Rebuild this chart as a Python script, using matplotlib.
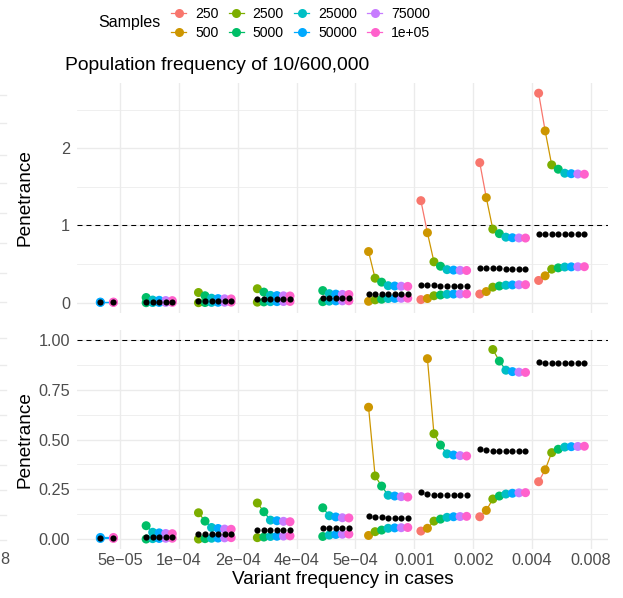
import numpy as np
import matplotlib.pyplot as plt
from matplotlib.lines import Line2D

plt.rcParams['font.family'] = ['Liberation Sans', 'DejaVu Sans']

# sample sizes (dodged inside every frequency group)
samples = [250, 500, 2500, 5000, 25000, 50000, 75000, 100000]
sample_labels = ['250', '500', '2500', '5000', '25000', '50000', '75000', '1e+05']
sample_colors = ['#F8766D', '#CD9600', '#7CAE00', '#00BE67',
                 '#00BFC4', '#00A9FF', '#C77CFF', '#FF61CC']

# variant frequency in cases (x categories)
freq_labels = ['5e\u221205', '1e\u221204', '2e\u221204', '4e\u221204', '5e\u221204',
               '0.001', '0.002', '0.004', '0.008']

nan = np.nan
# rows = frequency groups, columns = sample sizes; nan where no estimate
upper_ci = np.array([
    [nan, nan, nan, nan, nan, 0.008, nan, 0.008],
    [nan, nan, nan, 0.067, 0.034, 0.031, 0.028, 0.027],
    [nan, nan, 0.132, 0.090, 0.058, 0.053, 0.050, 0.049],
    [nan, nan, 0.181, 0.137, 0.095, 0.092, 0.089, 0.087],
    [nan, nan, nan, 0.157, 0.117, 0.111, 0.107, 0.106],
    [nan, 0.662, 0.317, 0.266, 0.220, 0.216, 0.213, 0.211],
    [1.321, 0.906, 0.529, 0.472, 0.428, 0.422, 0.419, 0.417],
    [1.813, 1.360, 0.952, 0.894, 0.848, 0.841, 0.838, 0.837],
    [2.712, 2.224, 1.784, 1.728, 1.676, 1.670, 1.666, 1.663],
])
lower_ci = np.array([
    [nan, nan, nan, nan, nan, 0.003, nan, 0.003],
    [nan, nan, nan, 0.000, 0.002, 0.003, 0.004, 0.004],
    [nan, nan, 0.000, 0.002, 0.004, 0.005, 0.006, 0.007],
    [nan, nan, 0.007, 0.010, 0.013, 0.014, 0.015, 0.016],
    [nan, nan, nan, 0.013, 0.020, 0.023, 0.024, 0.025],
    [nan, 0.018, 0.037, 0.045, 0.054, 0.056, 0.057, 0.058],
    [0.040, 0.054, 0.090, 0.100, 0.109, 0.112, 0.113, 0.114],
    [0.112, 0.144, 0.201, 0.216, 0.226, 0.230, 0.232, 0.233],
    [0.288, 0.348, 0.434, 0.451, 0.462, 0.464, 0.465, 0.466],
])
estimate = np.array([
    [nan, nan, nan, nan, nan, 0.0055, nan, 0.0055],
    [nan, nan, nan, 0.011, 0.011, 0.011, 0.011, 0.011],
    [nan, nan, 0.023, 0.023, 0.023, 0.023, 0.023, 0.023],
    [nan, nan, 0.045, 0.045, 0.045, 0.045, 0.045, 0.045],
    [nan, nan, nan, 0.055, 0.055, 0.055, 0.055, 0.055],
    [nan, 0.117, 0.110, 0.109, 0.108, 0.108, 0.108, 0.108],
    [0.235, 0.226, 0.223, 0.222, 0.221, 0.221, 0.221, 0.221],
    [0.452, 0.446, 0.444, 0.443, 0.442, 0.442, 0.442, 0.442],
    [0.888, 0.886, 0.885, 0.884, 0.884, 0.883, 0.883, 0.883],
])

W, H = 623, 598
dodge = 0.111
n_groups, n_samp = upper_ci.shape
xpos = (np.arange(n_groups)[:, None] + 0.5
        + (np.arange(n_samp)[None, :] - (n_samp - 1) / 2) * dodge)
colors = np.array(sample_colors)
grey30 = '#4D4D4D'
grid_col = '#EBEBEB'


def fx(px):
    return px / W


def fy(py):
    return 1 - py / H


def draw_panel(ax, cap=None):
    for g in range(n_groups):
        for series in (upper_ci, lower_ci):
            y = series[g].copy()
            if cap is not None:
                y[y > cap] = nan
            keep = ~np.isnan(y)
            xs, ys, cs = xpos[g][keep], y[keep], colors[keep]
            # each segment takes the colour of the sample it starts from
            for i in range(len(xs) - 1):
                ax.plot(xs[i:i + 2], ys[i:i + 2], color=cs[i], lw=0.9,
                        solid_capstyle='butt', zorder=2)
            ax.scatter(xs, ys, s=42, c=cs, linewidths=0, zorder=3)
        e = estimate[g]
        keep = ~np.isnan(e)
        ax.scatter(xpos[g][keep], e[keep], s=20, c='black', linewidths=0, zorder=4)
    ax.axhline(1, color='black', lw=0.75, ls=(0, (4.8, 3.8)), zorder=1.5)
    ax.set_xlim(0.27, 9.29)
    ax.set_xticks(np.arange(1, n_groups + 1))
    for s in ax.spines.values():
        s.set_visible(False)
    ax.tick_params(which='both', length=0, labelsize=11.7, labelcolor=grey30, pad=5)
    ax.grid(which='major', color=grid_col, lw=1.0)
    ax.grid(which='minor', axis='y', color=grid_col, lw=0.55)
    ax.set_axisbelow(True)


fig = plt.figure(figsize=(W / 100, H / 100), dpi=100)

left, right = 77, 608
ax_top = fig.add_axes([fx(left), fy(313.2), fx(right - left), (313.2 - 82.7) / H])
ax_bot = fig.add_axes([fx(left), fy(549), fx(right - left), (549 - 330) / H])

draw_panel(ax_top)
ax_top.set_ylim(-0.136, 2.848)
ax_top.set_yticks([0, 1, 2])
ax_top.set_yticks([0.5, 1.5, 2.5], minor=True)
ax_top.set_yticklabels(['0', '1', '2'])
ax_top.tick_params(labelbottom=False)

draw_panel(ax_bot, cap=1.0)
ax_bot.set_ylim(-0.05, 1.05)
ax_bot.set_yticks([0, 0.25, 0.5, 0.75, 1.0])
ax_bot.set_yticks([0.125, 0.375, 0.625, 0.875], minor=True)
ax_bot.set_yticklabels(['0.00', '0.25', '0.50', '0.75', '1.00'])
ax_bot.set_xticklabels(freq_labels)
ax_bot.tick_params(axis='x', pad=3)

# axis titles and plot title
fig.text(fx(25), fy(198), 'Penetrance', rotation=90, ha='center', va='center', fontsize=13.7)
fig.text(fx(25), fy(440), 'Penetrance', rotation=90, ha='center', va='center', fontsize=13.7)
fig.text(fx(342.5), fy(580), 'Variant frequency in cases', ha='center', va='center',
         fontsize=13.7)
fig.text(fx(65), fy(66), 'Population frequency of 10/600,000', ha='left', va='center',
         fontsize=13.9)

# legend: title on the left, two rows of keys
fig.text(fx(98), fy(22), 'Samples', ha='left', va='center', fontsize=11.5)
handles = [Line2D([0], [0], color=c, lw=0.9, marker='o', markersize=6.5,
                  markeredgewidth=0) for c in sample_colors]
fig.legend(handles, sample_labels, ncol=4, loc='upper left',
           bbox_to_anchor=(fx(171), fy(6.5)), frameon=False, fontsize=10.1,
           borderpad=0, borderaxespad=0, handlelength=1.1, handletextpad=0.62,
           columnspacing=0.72, labelspacing=0.38)

# edge of the neighbouring panel
for py in [95, 123, 155, 183, 213, 243, 273, 302,
           338, 365, 390, 415, 440, 465, 490, 515, 540]:
    fig.add_artist(Line2D([0, fx(6)], [fy(py), fy(py)], color=grid_col, lw=1.0))
fig.text(fx(0), fy(560), '8', ha='left', va='center', fontsize=11.7, color=grey30)

fig.savefig('out.png', dpi=100)
